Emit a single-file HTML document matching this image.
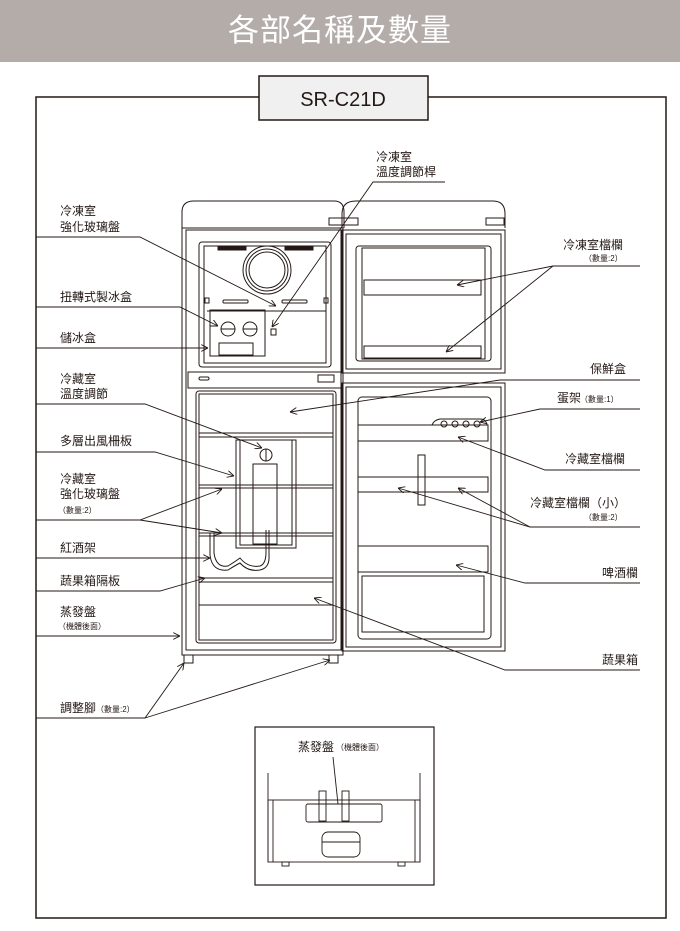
<!DOCTYPE html>
<html><head><meta charset="utf-8"><style>
html,body{margin:0;padding:0;background:#fff;}
body{width:680px;height:931px;overflow:hidden;position:relative;font-family:"Liberation Sans","Noto Sans CJK TC",sans-serif;}
.hdr{position:absolute;left:0;top:0;width:680px;height:62px;background:#b3aca9;color:#fff;font-size:31px;text-align:center;line-height:62px;font-family:"Liberation Sans","Noto Sans CJK TC",sans-serif;letter-spacing:1px;}
svg{position:absolute;left:0;top:0;}
text{font-family:"Liberation Sans","Noto Sans CJK TC",sans-serif;fill:#231815;}
</style></head><body>
<div class="hdr">各部名稱及數量</div>
<svg width="680" height="931" viewBox="0 0 680 931">
<defs><marker id="a" viewBox="0 0 10 10" refX="10" refY="5" markerWidth="7" markerHeight="7" orient="auto-start-reverse" markerUnits="userSpaceOnUse"><path d="M0,0 L10,5 L0,10" fill="none" stroke="#231815" stroke-width="1.3"/></marker></defs>
<rect x="36" y="97" width="630" height="821" fill="none" stroke="#231815" stroke-width="1.5"/>
<rect x="259" y="76" width="169" height="44" fill="#f0f0f0" stroke="#231815" stroke-width="1.5"/>
<text x="343" y="106" font-size="20" text-anchor="middle">SR-C21D</text>
<g fill="none" stroke="#231815" stroke-width="1">
<!-- left cabinet -->
<path d="M182,228 L182,212 Q182,201 194,201 L334,201 Q344,201 344,212 L344,228"/>
<rect x="182" y="228" width="161" height="427"/>
<rect x="186" y="230" width="155" height="420"/>
<rect x="199" y="242" width="132" height="125" rx="3"/>
<rect x="204" y="246" width="122" height="117"/>
<rect x="218" y="246" width="28" height="4" fill="#231815"/><rect x="285" y="246" width="28" height="4" fill="#231815"/>
<circle cx="267" cy="270" r="24"/><circle cx="267" cy="270" r="21"/><circle cx="267" cy="270" r="18"/>
<rect x="223" y="300" width="25" height="3" rx="1"/><rect x="282" y="300" width="25" height="3" rx="1"/>
<line x1="207" y1="311" x2="326" y2="311"/>
<rect x="205" y="298" width="4" height="5"/><rect x="324" y="298" width="4" height="5"/>
<rect x="210" y="310" width="55" height="46"/>
<circle cx="228" cy="329" r="7"/><circle cx="250" cy="329" r="7"/>
<line x1="221" y1="329" x2="235" y2="329"/><line x1="243" y1="329" x2="257" y2="329"/>
<rect x="219" y="343" width="34" height="12"/>
<rect x="271" y="329" width="5" height="6"/>
<rect x="188" y="372" width="153" height="16"/>
<rect x="199" y="377" width="10" height="3" rx="1.5"/>
<rect x="318" y="375" width="16" height="7"/>
<rect x="196" y="391" width="140" height="252" rx="3"/>
<rect x="199" y="394" width="134" height="246"/>
<line x1="199" y1="433" x2="333" y2="433"/><line x1="199" y1="437" x2="333" y2="437"/>
<line x1="199" y1="485" x2="333" y2="485"/><line x1="199" y1="488" x2="333" y2="488"/>
<line x1="199" y1="533" x2="333" y2="533"/><line x1="199" y1="536" x2="333" y2="536"/>
<rect x="236" y="440" width="60" height="108"/><rect x="240" y="440" width="52" height="105"/>
<rect x="253" y="464" width="24" height="80"/>
<circle cx="266" cy="455" r="6"/><line x1="266" y1="449" x2="266" y2="461"/>
<path d="M210,533 L210,555 Q212,572 228,570 Q236,565 240,563 Q248,572 260,570 Q270,568 269,555 L269,530"/>
<path d="M214,533 L214,553 Q216,568 228,566 Q236,561 240,558 Q248,568 260,566 Q266,564 266,552 L266,530"/>
<line x1="199" y1="578" x2="333" y2="578"/><line x1="199" y1="582" x2="333" y2="582"/>
<line x1="199" y1="605" x2="333" y2="605"/>
<rect x="184" y="655" width="9" height="8"/><rect x="329" y="655" width="9" height="8"/>
<!-- right door -->
<path d="M342,228 L342,214 Q342,201 356,201 L493,201 Q505,201 505,214 L505,228"/>
<rect x="329" y="218" width="29" height="7"/><rect x="486" y="218" width="18" height="7"/>
<rect x="342" y="230" width="163" height="143"/>
<rect x="346" y="234" width="155" height="135"/>
<rect x="356" y="246" width="135" height="115" rx="3"/>
<rect x="362" y="248" width="123" height="111"/>
<rect x="364" y="280" width="117" height="15"/>
<rect x="364" y="346" width="117" height="12"/>
<rect x="342" y="383" width="163" height="268"/>
<rect x="346" y="387" width="155" height="260"/>
<rect x="358" y="397" width="133" height="242" rx="4"/>
<rect x="358" y="425" width="130" height="16"/>
<path d="M432,425 Q434,420 440,419 L480,419 Q486,419 487,425"/>
<circle cx="444" cy="424" r="3"/><circle cx="455" cy="424" r="3"/><circle cx="466" cy="424" r="3"/><circle cx="477" cy="424" r="3"/>
<rect x="358" y="477" width="130" height="15"/>
<rect x="418" y="455" width="7" height="50"/>
<rect x="358" y="546" width="130" height="26"/>
<rect x="362" y="576" width="122" height="56"/>
</g>
<!-- leader lines -->
<g fill="none" stroke="#231815" stroke-width="0.9">
<path d="M36,237 L140,237 L276,306" marker-end="url(#a)"/>
<path d="M36,307 L180,307 L218,326" marker-end="url(#a)"/>
<path d="M36,348 L208,348" marker-end="url(#a)"/>
<path d="M36,404 L145,404 L262,448" marker-end="url(#a)"/>
<path d="M36,452 L155,452 L234,476" marker-end="url(#a)"/>
<path d="M36,520 L140,520 L222,489" marker-end="url(#a)"/>
<path d="M140,520 L222,533" marker-end="url(#a)"/>
<path d="M36,558 L210,558" marker-end="url(#a)"/>
<path d="M36,591 L160,591 L205,578" marker-end="url(#a)"/>
<path d="M36,636 L180,636" marker-end="url(#a)"/>
<path d="M36,718 L145,718 L184,663" marker-end="url(#a)"/>
<path d="M145,718 L330,660" marker-end="url(#a)"/>
<path d="M445,182 L373,182 L272,327" marker-end="url(#a)"/>
<path d="M640,266 L553,266 L457,285" marker-end="url(#a)"/>
<path d="M553,266 L446,352" marker-end="url(#a)"/>
<path d="M640,380 L500,380 L290,412" marker-end="url(#a)"/>
<path d="M640,409 L540,409 L480,422" marker-end="url(#a)"/>
<path d="M640,470 L545,470 L458,437" marker-end="url(#a)"/>
<path d="M640,527 L530,527 L398,488" marker-end="url(#a)"/>
<path d="M530,527 L458,488" marker-end="url(#a)"/>
<path d="M640,583 L525,583 L456,565" marker-end="url(#a)"/>
<path d="M640,670 L505,670 L314,598" marker-end="url(#a)"/>
</g>
<g font-size="12">
<text x="60" y="215">冷凍室</text><text x="60" y="231">強化玻璃盤</text>
<text x="60" y="301">扭轉式製冰盒</text>
<text x="60" y="342">儲冰盒</text>
<text x="60" y="383">冷藏室</text><text x="60" y="398">溫度調節</text>
<text x="60" y="445">多層出風柵板</text>
<text x="60" y="483">冷藏室</text><text x="60" y="498">強化玻璃盤</text>
<text x="60" y="552">紅酒架</text>
<text x="60" y="585">蔬果箱隔板</text>
<text x="60" y="616">蒸發盤</text>
<text x="60" y="712">調整腳</text>
<text x="376" y="161">冷凍室</text><text x="376" y="176">溫度調節桿</text>
<text x="563" y="249">冷凍室檔欄</text>
<text x="590" y="373">保鮮盒</text>
<text x="557" y="402">蛋架</text>
<text x="565" y="463">冷藏室檔欄</text>
<text x="530" y="507">冷藏室檔欄（小）</text>
<text x="602" y="577">啤酒欄</text>
<text x="602" y="664">蔬果箱</text>
<text x="298" y="751">蒸發盤</text>
</g>
<g font-size="8">
<text x="58" y="513">（數量:2）</text>
<text x="58" y="629">（機體後面）</text>
<text x="96" y="712">（數量:2）</text>
<text x="584" y="261">（數量:2）</text>
<text x="580" y="402">（數量:1）</text>
<text x="584" y="520">（數量:2）</text>
<text x="336" y="750">（機體後面）</text>
</g>
<!-- bottom box -->
<rect x="255" y="727" width="179" height="158" fill="none" stroke="#231815" stroke-width="1.2"/>
<g fill="none" stroke="#231815" stroke-width="0.9">
<line x1="268" y1="773" x2="268" y2="862"/><line x1="420" y1="773" x2="420" y2="862"/>
<rect x="268" y="800" width="152" height="62"/>
<line x1="273" y1="800" x2="273" y2="862"/><line x1="415" y1="800" x2="415" y2="862"/>
<rect x="306" y="804" width="76" height="18" rx="2"/>
<rect x="319" y="791" width="7" height="30"/><rect x="342" y="791" width="7" height="30"/>
<rect x="322" y="832" width="38" height="25" rx="6"/><line x1="322" y1="842" x2="360" y2="842"/>
<rect x="282" y="862" width="7" height="4"/><rect x="398" y="862" width="7" height="4"/>
<line x1="333" y1="757" x2="338" y2="804"/>
</g>
</svg>
</body></html>
